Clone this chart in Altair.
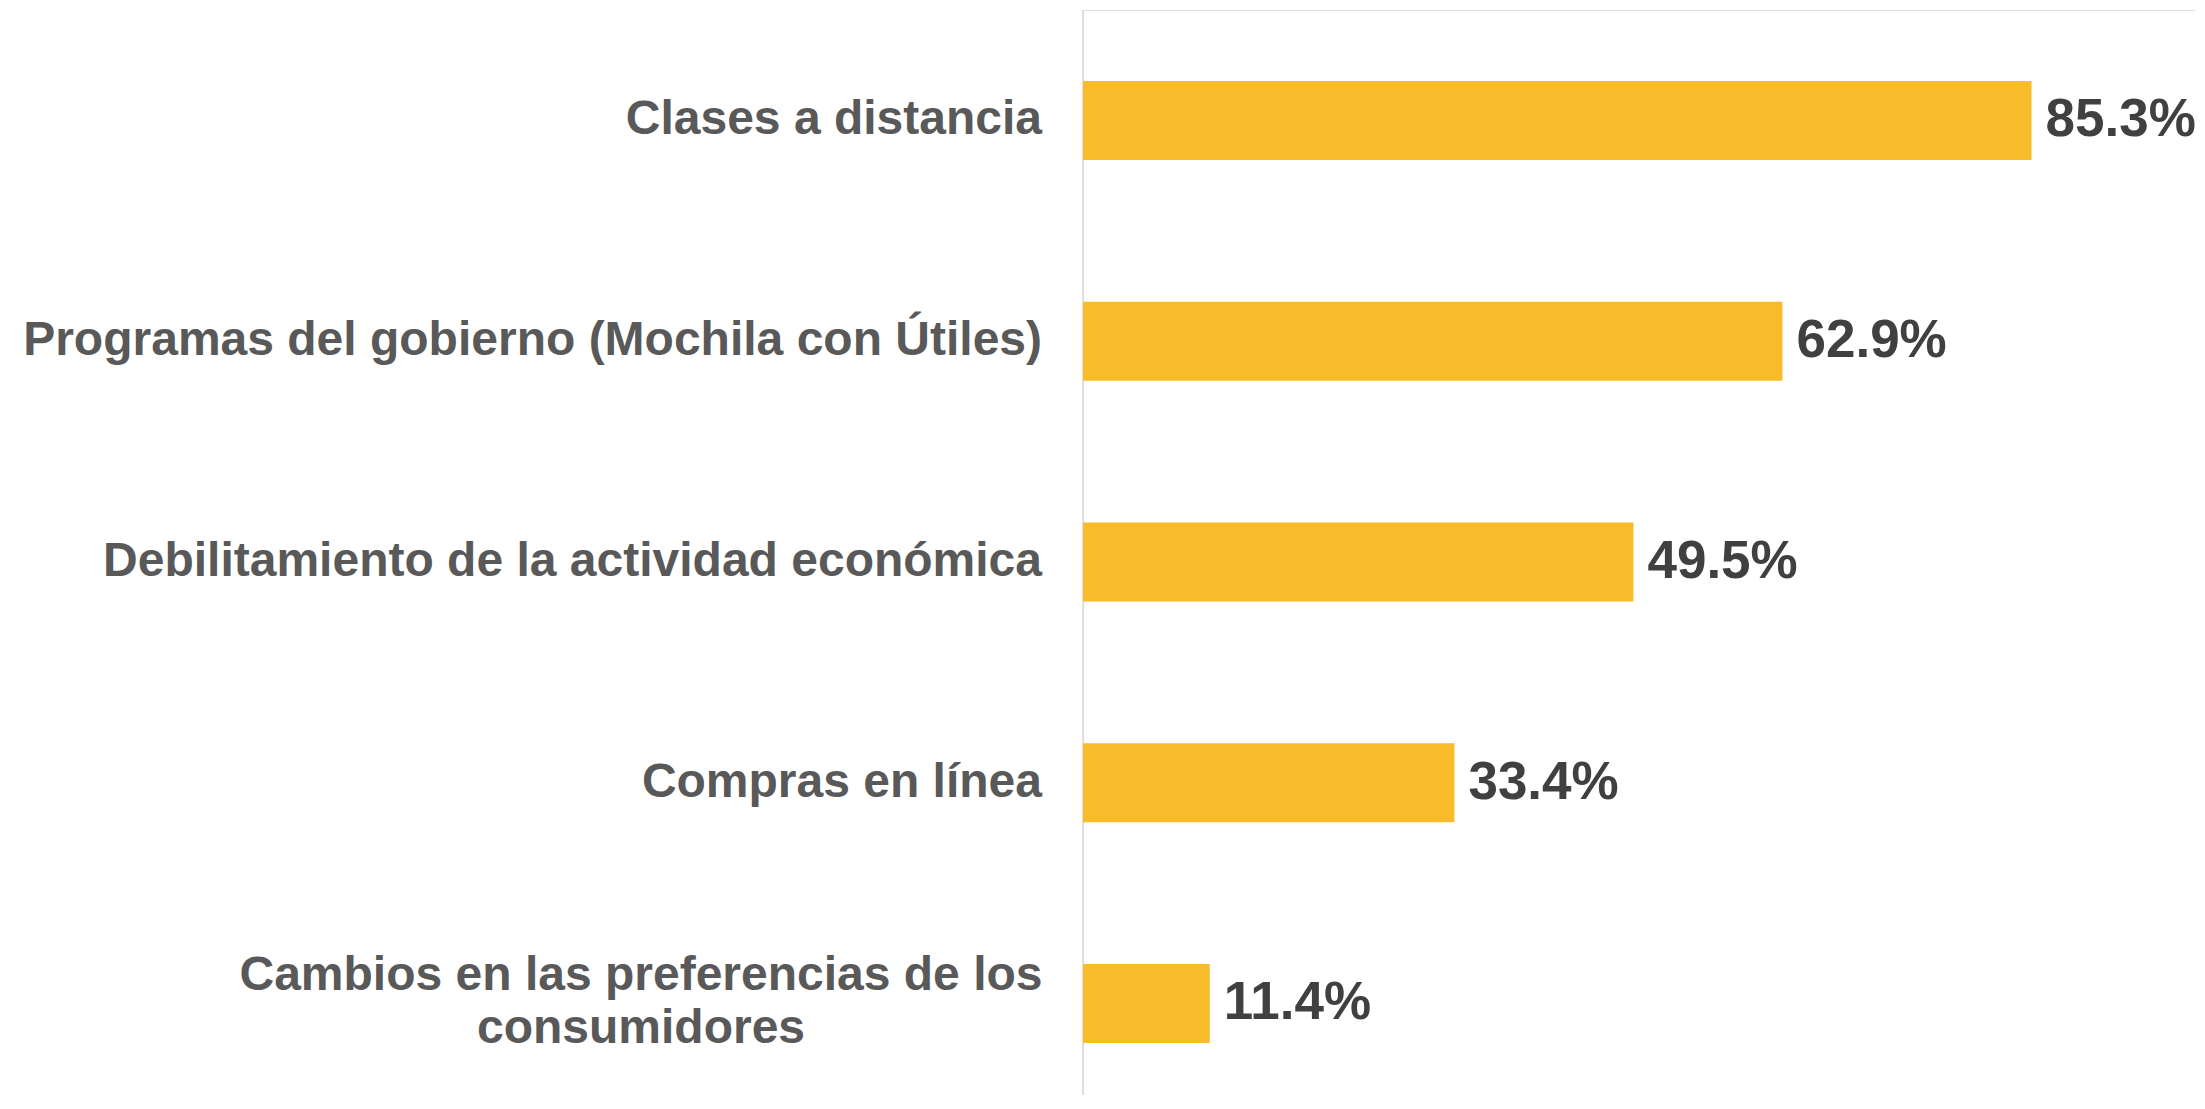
import altair as alt
import pandas as pd

categories = [
    "Clases a distancia",
    "Programas del gobierno (Mochila con Útiles)",
    "Debilitamiento de la actividad económica",
    "Compras en línea",
    "Cambios en las preferencias de los consumidores",
]
label_lines = [
    ["Clases a distancia"],
    ["Programas del gobierno (Mochila con Útiles)"],
    ["Debilitamiento de la actividad económica"],
    ["Compras en línea"],
    ["Cambios en las preferencias de los", "consumidores"],
]
values = [85.3, 62.9, 49.5, 33.4, 11.4]

df = pd.DataFrame({
    "cat": categories,
    "value": values,
    "lines": label_lines,
    "nlines": [len(l) for l in label_lines],
})

FONT = "Liberation Sans"
BAR = "#F8BB2A"

y_scale = alt.Scale(paddingInner=0.642, paddingOuter=0.2785, align=0.577)

base = alt.Chart(df)

axis_line = alt.Chart(pd.DataFrame({"v": [0]})).mark_rule(
    color="#D9D9D9", strokeWidth=1.5
).encode(x=alt.value(0), y=alt.value(0), y2=alt.value(1100))

bars = base.mark_bar(color=BAR).encode(
    x=alt.X("value:Q", scale=alt.Scale(domain=[0, 100]), axis=None),
    y=alt.Y("cat:N", sort=categories, scale=y_scale, axis=None),
)

values_text = base.transform_calculate(
    lbl="format(datum.value, '.1f') + '%'"
).mark_text(
    align="left", baseline="middle", dx=14, font=FONT, fontSize=53,
    fontWeight="bold", color="#404040",
).encode(
    x=alt.X("value:Q", axis=None),
    y=alt.Y("cat:N", sort=categories, axis=None),
    text="lbl:N",
)

single_labels = base.transform_filter("datum.nlines == 1").mark_text(
    align="right", baseline="middle", font=FONT, fontSize=48,
    fontWeight="bold", color="#595959",
).encode(
    x=alt.value(-41),
    y=alt.Y("cat:N", sort=categories, axis=None),
    text="lines",
)

multi_labels = base.transform_filter("datum.nlines > 1").mark_text(
    align="center", baseline="middle", font=FONT, fontSize=48,
    fontWeight="bold", color="#595959", lineHeight=53, dy=-27,
).encode(
    x=alt.value(-442),
    y=alt.Y("cat:N", sort=categories, axis=None),
    text="lines",
)

chart = alt.layer(axis_line, bars, values_text, single_labels, multi_labels).properties(
    width=1112,
    height=1085,
    autosize=alt.AutoSizeParams(type="none"),
    padding={"left": 1075, "top": 2, "right": 0, "bottom": 0},
).configure_view(stroke=None, fill=None).configure(background="white")

chart.save("out.html", embed_options={"renderer": "svg", "actions": False})
